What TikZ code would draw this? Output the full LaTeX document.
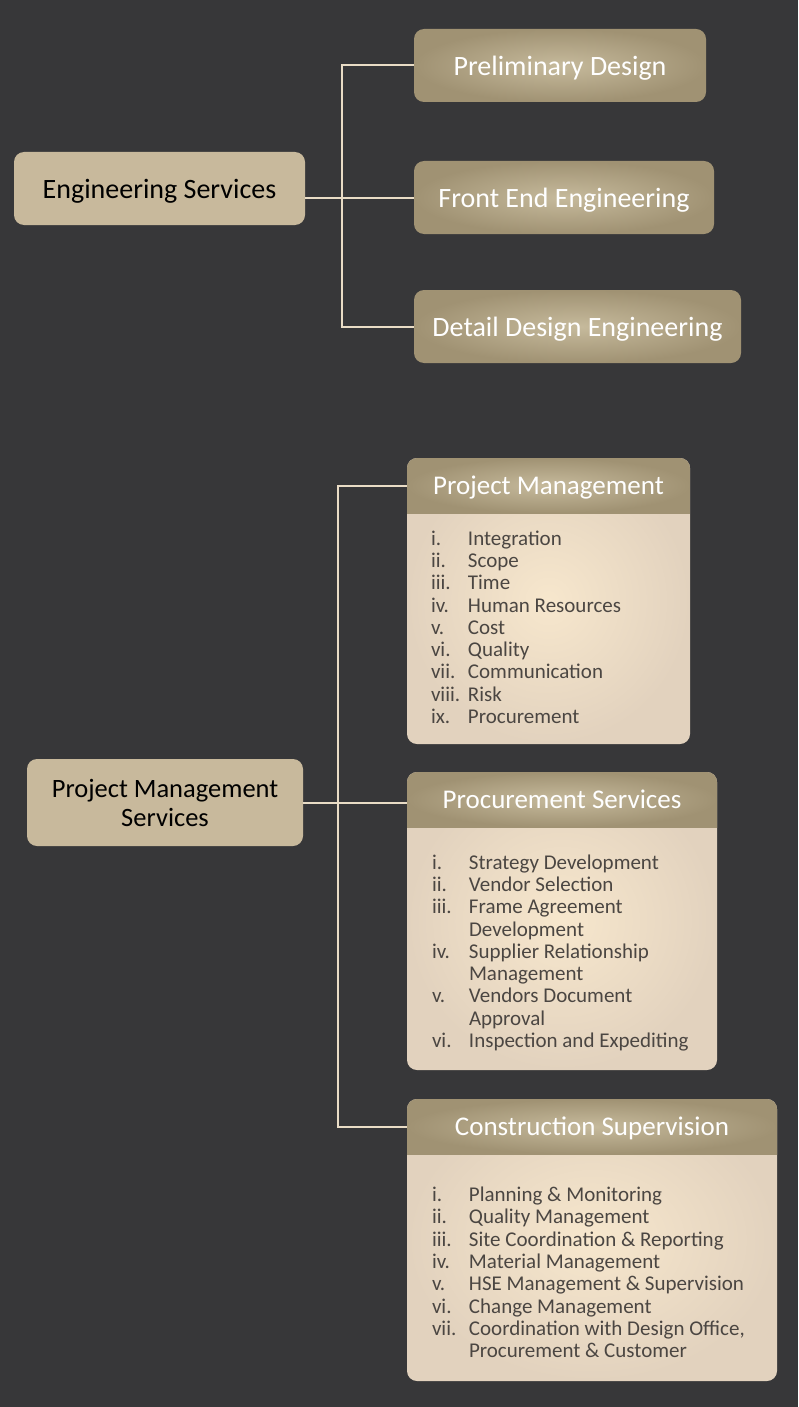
\documentclass[tikz,border=0pt]{standalone}
\usepackage{fontspec}
\setmainfont{Carlito}
\definecolor{bgcol}{RGB}{55,55,57}
\definecolor{rootcol}{RGB}{200,185,156}
\definecolor{subin}{RGB}{198,186,156}
\definecolor{subout}{RGB}{160,146,115}
\definecolor{bodyin}{RGB}{247,231,205}
\definecolor{bodyout}{RGB}{226,210,190}
\definecolor{linkcol}{RGB}{233,220,198}
\definecolor{itemcol}{RGB}{75,70,66}
\begin{document}
\begin{tikzpicture}[x=1pt,y=-1pt,inner sep=0pt,outer sep=0pt,
link/.style={draw=linkcol,line width=2pt},
rootbox/.style={fill=rootcol,rounded corners=10pt,text=black,align=center},
subbox/.style={rounded corners=10pt,shading=radial,inner color=subin,outer color=subout,text=white,minimum height=73pt,text depth=0pt,font=\fontsize{28}{32}\selectfont},
bodybox/.style={rounded corners=10pt,shading=radial,inner color=bodyin,outer color=bodyout},
headbox/.style={shading=radial,inner color=subin,outer color=subout,text=white,minimum height=55pt,text depth=0pt,font=\fontsize{27}{31}\selectfont},
items/.style={text=itemcol,align=left,font=\fontsize{21}{22.3}\selectfont}]
\fill[bgcol] (0,0) rectangle (798,1407);

% engineering services
\node[rootbox,anchor=north west,minimum width=291pt,minimum height=73pt,text depth=0pt,font=\fontsize{28}{32}\selectfont] (eng) at (14,152) {Engineering Services};
\node[subbox,anchor=north west,minimum width=292pt] (prelim) at (414,29) {Preliminary Design};
\node[subbox,anchor=north west,minimum width=300pt] (front) at (414,161) {Front End Engineering};
\node[subbox,anchor=north west,minimum width=327pt] (detail) at (414,290) {Detail Design Engineering};

\draw[link] (prelim.west) -- ++(-72,0) |- (detail.west);
\draw[link] (front.west) -- (front.west -| eng.east);

% project management services
\node[rootbox,anchor=north west,minimum width=276pt,minimum height=87pt,font=\fontsize{26.5}{29}\selectfont] (pms) at (27,759) {Project Management\\Services};

\node[bodybox,anchor=north west,minimum width=283pt,minimum height=286pt] (pmbox) at (407,458) {};
\begin{scope}
\clip[rounded corners=10pt] (pmbox.north west) rectangle (pmbox.south east);
\node[headbox,anchor=north west,minimum width=283pt] (pm) at (pmbox.north west) {Project Management};
\end{scope}
\node[items,anchor=north west] (pmlist) at (431,529.5) {%
\begin{tabular}{@{}p{37pt}@{}l@{}}
i. & Integration\\
ii. & Scope\\
iii. & Time\\
iv. & Human Resources\\
v. & Cost\\
vi. & Quality\\
vii. & Communication\\
viii. & Risk\\
ix. & Procurement
\end{tabular}};

\node[bodybox,anchor=north west,minimum width=310pt,minimum height=298pt] (procbox) at (407,772) {};
\begin{scope}
\clip[rounded corners=10pt] (procbox.north west) rectangle (procbox.south east);
\node[headbox,anchor=north west,minimum width=310pt] (proc) at (procbox.north west) {Procurement Services};
\end{scope}
\node[items,anchor=north west] (proclist) at (432,853.5) {%
\begin{tabular}{@{}p{37pt}@{}l@{}}
i. & Strategy Development\\
ii. & Vendor Selection\\
iii. & Frame Agreement\\
 & Development\\
iv. & Supplier Relationship\\
 & Management\\
v. & Vendors Document\\
 & Approval\\
vi. & Inspection and Expediting
\end{tabular}};

\node[bodybox,anchor=north west,minimum width=370pt,minimum height=282pt] (csbox) at (407,1099) {};
\begin{scope}
\clip[rounded corners=10pt] (csbox.north west) rectangle (csbox.south east);
\node[headbox,anchor=north west,minimum width=370pt] (cs) at (csbox.north west) {Construction Supervision};
\end{scope}
\node[items,anchor=north west] (cslist) at (432,1186) {%
\begin{tabular}{@{}p{37pt}@{}l@{}}
i. & Planning \& Monitoring\\
ii. & Quality Management\\
iii. & Site Coordination \& Reporting\\
iv. & Material Management\\
v. & HSE Management \& Supervision\\
vi. & Change Management\\
vii. & Coordination with Design Office,\\
 & Procurement \& Customer
\end{tabular}};

\draw[link] (pm.west) -- ++(-69,0) |- (cs.west);
\draw[link] (pms.east) -- (pms.east -| proc.west);
\end{tikzpicture}
\end{document}
